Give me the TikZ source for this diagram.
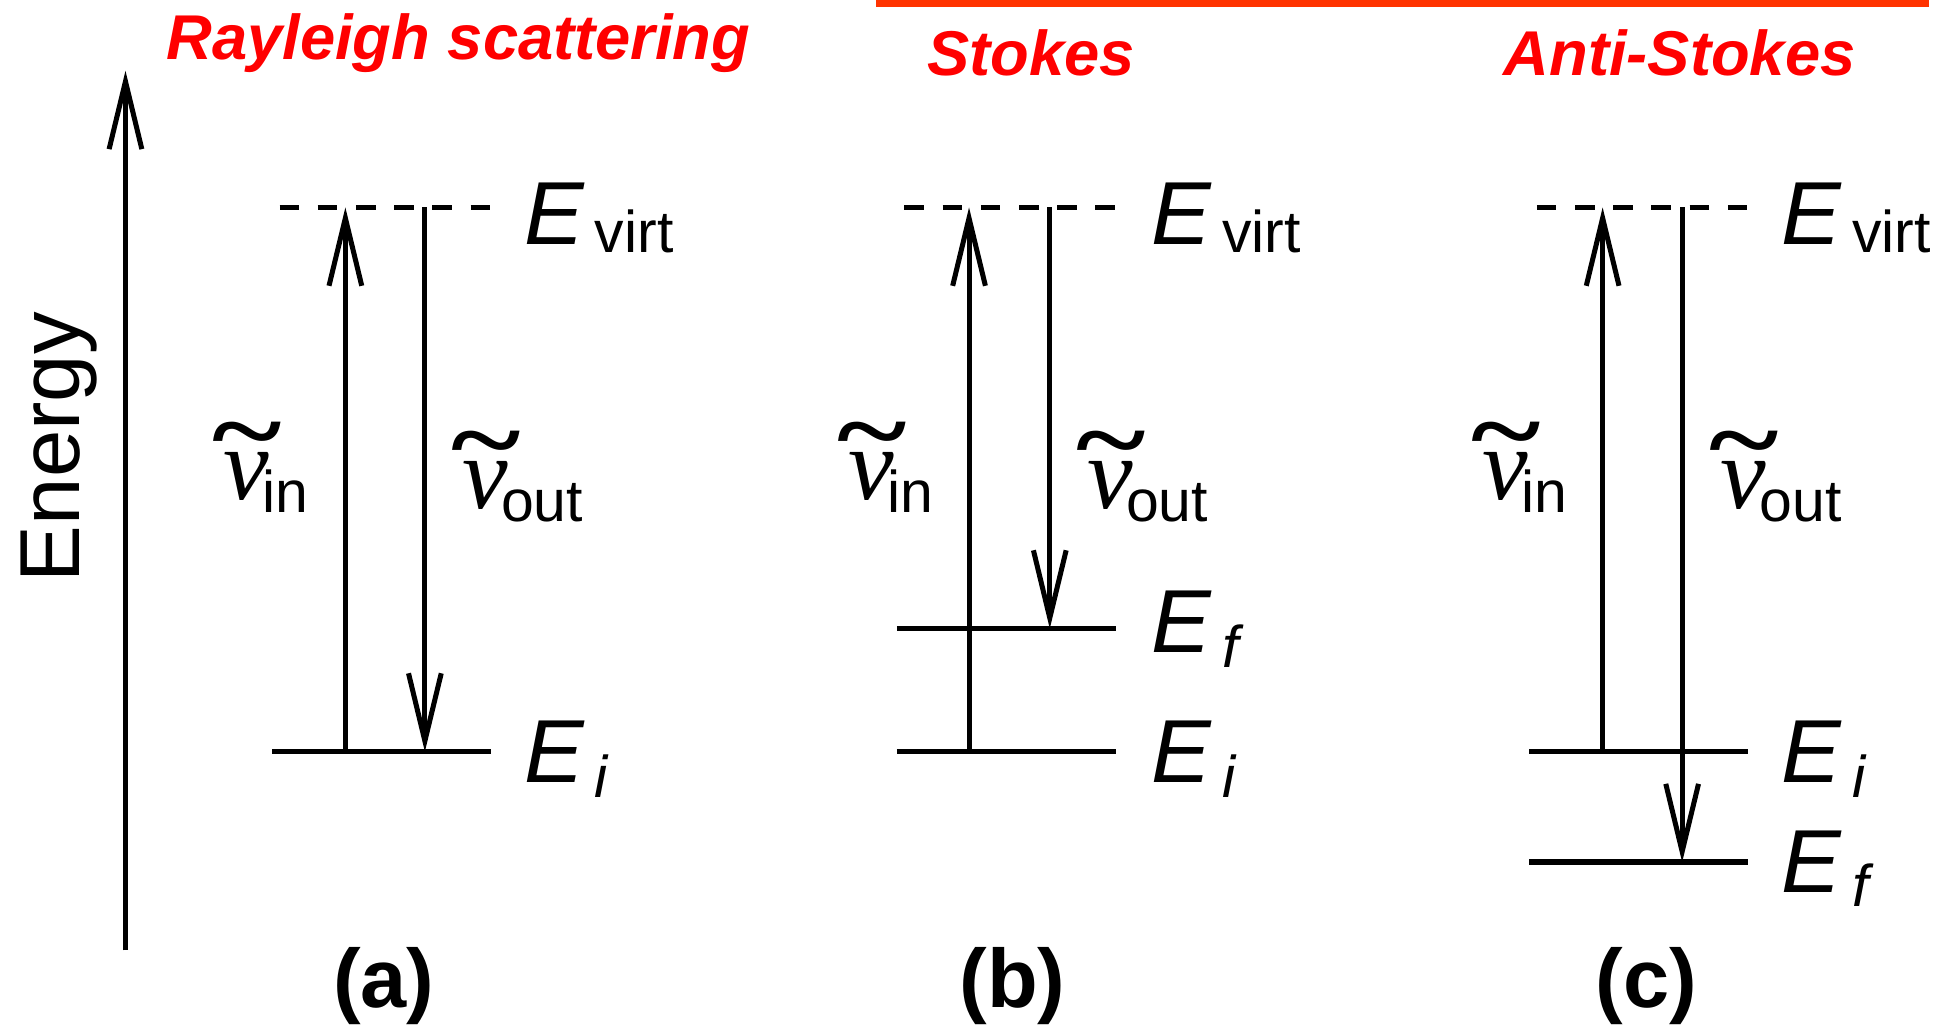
\documentclass[tikz,border=0pt]{standalone}
\usepackage{fontspec}
\setmainfont{Liberation Sans}
\newfontfamily\greekfont{Liberation Serif}
\usetikzlibrary{arrows.meta}
\definecolor{titlered}{RGB}{255,0,0}
\definecolor{barred}{RGB}{255,51,0}

% wavenumber label: nu with a tilde on top and a subscript
\newcommand{\wavenum}[1]{{\greekfont\itshape\fontsize{47}{47}\selectfont\rlap{\kern-5pt\raisebox{15.5pt}{\bfseries\upshape\scalebox{1.3}[1.0]{\textasciitilde}}}ν}\kern-3pt\raisebox{-6pt}{\fontsize{27}{27}\selectfont #1}}
% energy level label: italic E with a subscript
\newcommand{\enlabel}[2]{{\fontsize{41}{41}\selectfont\itshape E}\kern5pt\raisebox{#2}{\fontsize{27}{27}\selectfont #1}}

\begin{document}
\begin{tikzpicture}[x=0.02cm, y=-0.02cm, line width=2.3pt,
    enlevel/.style={line width=2.5pt},
    virtlevel/.style={line width=2.5pt, dash pattern=on 9pt off 8.5pt},
    transarrow/.style={-{Straight Barb[length=31pt, width=15pt, line width=2.3pt]}},
    lvltext/.style={inner sep=0pt, anchor=base west},
    titletext/.style={inner sep=0pt, anchor=base, text=titlered, font=\fontsize{29}{29}\selectfont\bfseries\itshape},
    captext/.style={inner sep=0pt, anchor=base, font=\fontsize{38}{38}\selectfont\bfseries}]
    \useasboundingbox (0,0) rectangle (1568,827);

    % Energy axis
    \coordinate (axis0) at (101,765);
    \coordinate (axis1) at (101,57);
    \draw[transarrow] (axis0) -- (axis1);
    \node[inner sep=0pt, anchor=base, rotate=90, font=\fontsize{39}{39}\selectfont] (energy) at (64,360) {Energy};

    % Titles
    \node[titletext] (title-ray) at (369,48) {Rayleigh scattering};
    \node[titletext] (title-st) at (830,61) {Stokes};
    \node[titletext] (title-as) at (1352,61) {Anti-Stokes};
    \coordinate (bar0) at (705,3);
    \coordinate (bar1) at (1553,3);
    \draw[barred, line width=3.4pt] (bar0) -- (bar1);

    % Panel (a): Rayleigh
    \coordinate (a-v1) at (225,167);  \coordinate (a-v2) at (397,167);
    \coordinate (a-i1) at (219,605);  \coordinate (a-i2) at (395,605);
    \coordinate (a-up0) at (278,605); \coordinate (a-up1) at (278,167);
    \coordinate (a-dn0) at (342,167); \coordinate (a-dn1) at (342,605);
    \draw[virtlevel] (a-v1) -- (a-v2);
    \draw[enlevel] (a-i1) -- (a-i2);
    \draw[transarrow] (a-up0) -- (a-up1);
    \draw[transarrow] (a-dn0) -- (a-dn1);
    \node[lvltext] (a-Ev) at (420,197) {\enlabel{virt}{-3.4pt}};
    \node[lvltext] (a-Ei) at (420,630) {\enlabel{\itshape i}{-6.8pt}};
    \node[lvltext] (a-nin) at (178,402) {\wavenum{in}};
    \node[lvltext] (a-nout) at (370,409) {\wavenum{out}};
    \node[captext] (a-cap) at (309,811) {(a)};

    % Panel (b): Stokes
    \coordinate (b-v1) at (728,167);  \coordinate (b-v2) at (900,167);
    \coordinate (b-f1) at (722,506);  \coordinate (b-f2) at (898,506);
    \coordinate (b-i1) at (722,605);  \coordinate (b-i2) at (898,605);
    \coordinate (b-up0) at (780,605); \coordinate (b-up1) at (780,167);
    \coordinate (b-dn0) at (845,167); \coordinate (b-dn1) at (845,506);
    \draw[virtlevel] (b-v1) -- (b-v2);
    \draw[enlevel] (b-f1) -- (b-f2);
    \draw[enlevel] (b-i1) -- (b-i2);
    \draw[transarrow] (b-up0) -- (b-up1);
    \draw[transarrow] (b-dn0) -- (b-dn1);
    \node[lvltext] (b-Ev) at (925,197) {\enlabel{virt}{-3.4pt}};
    \node[lvltext] (b-Ef) at (925,525) {\enlabel{\itshape f}{-6.8pt}};
    \node[lvltext] (b-Ei) at (925,630) {\enlabel{\itshape i}{-6.8pt}};
    \node[lvltext] (b-nin) at (681,402) {\wavenum{in}};
    \node[lvltext] (b-nout) at (873,409) {\wavenum{out}};
    \node[captext] (b-cap) at (815,811) {(b)};

    % Panel (c): Anti-Stokes
    \coordinate (c-v1) at (1237,167);  \coordinate (c-v2) at (1409,167);
    \coordinate (c-i1) at (1231,605);  \coordinate (c-i2) at (1407,605);
    \coordinate (c-f1) at (1231,694);  \coordinate (c-f2) at (1407,694);
    \coordinate (c-up0) at (1290,605); \coordinate (c-up1) at (1290,167);
    \coordinate (c-dn0) at (1354,167); \coordinate (c-dn1) at (1354,694);
    \draw[virtlevel] (c-v1) -- (c-v2);
    \draw[enlevel] (c-i1) -- (c-i2);
    \draw[enlevel] (c-f1) -- (c-f2);
    \draw[transarrow] (c-up0) -- (c-up1);
    \draw[transarrow] (c-dn0) -- (c-dn1);
    \node[lvltext] (c-Ev) at (1432,197) {\enlabel{virt}{-3.4pt}};
    \node[lvltext] (c-Ei) at (1432,630) {\enlabel{\itshape i}{-6.8pt}};
    \node[lvltext] (c-Ef) at (1432,718) {\enlabel{\itshape f}{-6.8pt}};
    \node[lvltext] (c-nin) at (1191,402) {\wavenum{in}};
    \node[lvltext] (c-nout) at (1383,409) {\wavenum{out}};
    \node[captext] (c-cap) at (1325,811) {(c)};
\end{tikzpicture}
\end{document}
